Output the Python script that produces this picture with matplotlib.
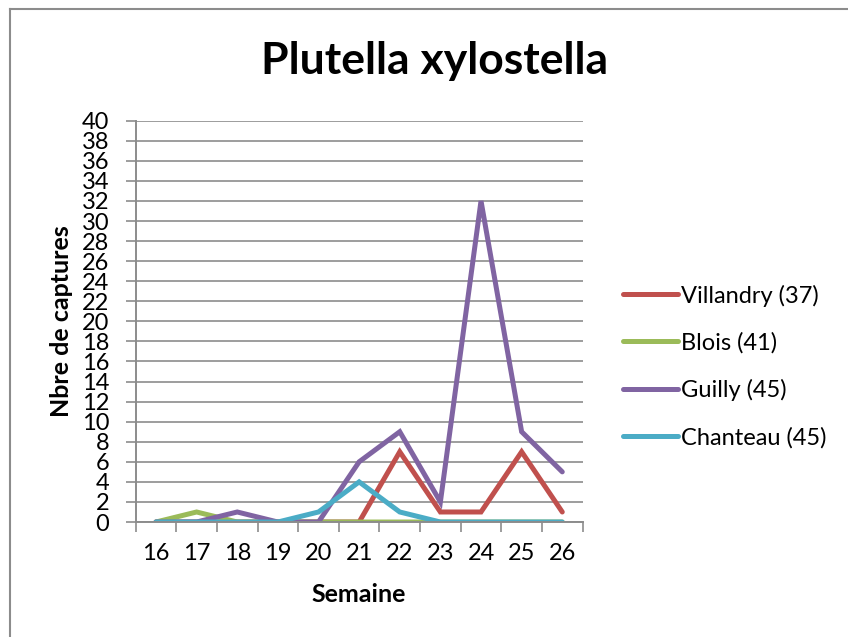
import matplotlib.pyplot as plt
import numpy as np
from matplotlib.lines import Line2D

# --- Data ---
weeks = [16, 17, 18, 19, 20, 21, 22, 23, 24, 25, 26]
villandry = [0, 0, 0, 0, 0, 0, 7, 1, 1, 7, 1]
blois = [0, 1, 0, 0, 0, 0, 0, 0, 0, 0, 0]
guilly = [0, 0, 1, 0, 0, 6, 9, 2, 32, 9, 5]
chanteau = [0, 0, 0, 0, 1, 4, 1, 0, 0, 0, 0]
series_names = ["Villandry (37)", "Blois (41)", "Guilly (45)", "Chanteau (45)"]
colors = ["#C0504D", "#9BBB59", "#8064A2", "#4BACC6"]

plt.rcParams['font.family'] = ['Lato', 'DejaVu Sans']
fs = 17

fig = plt.figure(figsize=(8.48, 6.37), dpi=100)
ax = fig.add_axes([0.160, 0.1805, 0.527, 0.630])

x = np.arange(len(weeks))
for vals, name, col in zip([villandry, blois, guilly, chanteau], series_names, colors):
    ax.plot(x, vals, color=col, lw=3.6, label=name, solid_capstyle='round', solid_joinstyle='miter')

# --- Axes styling (Excel look) ---
ax.set_xlim(-0.5, len(weeks) - 0.5)
ax.set_ylim(0, 40)
ax.set_yticks(range(0, 41, 2))
ax.yaxis.grid(True, color='#8C8C8C', lw=1.2)
ax.set_axisbelow(True)
ax.set_xticks(x)
ax.set_xticklabels([str(w) for w in weeks], fontsize=fs)
ax.set_xticks(np.arange(-0.5, len(weeks)), minor=True)
ax.tick_params(axis='x', which='major', length=0, pad=15)
ax.tick_params(axis='x', which='minor', length=7, width=1.2, color='#8C8C8C', direction='out')
ax.tick_params(axis='y', length=7, width=1.2, color='#8C8C8C', labelsize=fs, pad=12)
for s in ['top', 'right']:
    ax.spines[s].set_visible(False)
for s in ['left', 'bottom']:
    ax.spines[s].set_color('#8C8C8C')
    ax.spines[s].set_linewidth(1.4)

ax.set_xlabel("Semaine", fontsize=18, fontweight='bold', labelpad=14)
ax.set_ylabel("Nbre de captures", fontsize=18, fontweight='bold', labelpad=6)
fig.text(0.513, 0.905, "Plutella xylostella", fontsize=32, fontweight='bold', ha='center', va='center')

# --- Legend ---
handles = [Line2D([0], [0], color=c, lw=3.6, solid_capstyle='round') for c in colors]
fig.legend(handles, series_names, loc='center left', bbox_to_anchor=(0.710, 0.425),
           frameon=False, fontsize=fs, handlelength=2.3, handletextpad=0.15, labelspacing=1.08)

# --- Chart border (top and left edges) ---
fig.add_artist(Line2D([10 / 848, 1], [1 - 9 / 637] * 2, color='#8C8C8C', lw=1.5))
fig.add_artist(Line2D([10 / 848] * 2, [0, 1 - 9 / 637], color='#8C8C8C', lw=1.5))

fig.savefig("out.png", dpi=100)
